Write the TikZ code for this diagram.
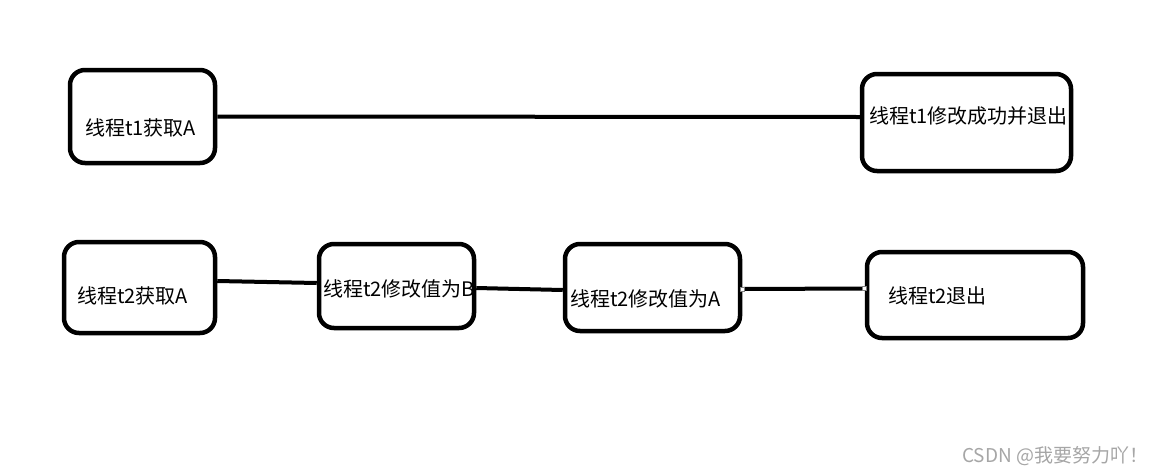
\documentclass[tikz,border=0pt]{standalone}
\usepackage{fontspec}
\newfontfamily\cjk{Noto Sans CJK SC}
\usetikzlibrary{calc}
\definecolor{wmgray}{HTML}{A6A6A6}
\tikzset{
  box/.style={draw=black, line width=4.5pt, rounded corners=15pt, inner sep=0pt, fill=white},
  lbl/.style={anchor=west, inner sep=0pt, font=\cjk\fontsize{20}{22}\selectfont},
  link/.style={draw=black, line width=4pt},
  handle/.style={draw=gray, fill=white, line width=0.6pt, minimum size=4pt, inner sep=0pt}
}
\begin{document}
\begin{tikzpicture}[x=1pt,y=-1pt]
\useasboundingbox[fill=white] (0,0) rectangle (1161,474);
% boxes
\node[box, minimum width=145pt, minimum height=93pt] (b1) at (142.5,116.5) {};
\node[box, minimum width=209pt, minimum height=97pt] (b2) at (966.5,122.5) {};
\node[box, minimum width=151pt, minimum height=91pt] (b3) at (139.5,287.5) {};
\node[box, minimum width=155pt, minimum height=84pt] (b4) at (396.5,286) {};
\node[box, minimum width=175pt, minimum height=87pt] (b5) at (652.5,287.5) {};
\node[box, minimum width=216pt, minimum height=86pt] (b6) at (975,295) {};
% labels
\node[lbl] (t1) at (85,128) {线程t1获取A};
\node[lbl] (t2) at (869,116) {线程t1修改成功并退出};
\node[lbl] (t3) at (77,296) {线程t2获取A};
\node[lbl] (t4) at (323,289) {线程t2修改值为B};
\node[lbl] (t5) at (570,299) {线程t2修改值为A};
\node[lbl] (t6) at (888,296) {线程t2退出};
% connectors
\draw[link] (b1.east) -- ([yshift=5.5pt]b2.west);
\draw[link] ([yshift=6.5pt]b3.east) -- ([yshift=3pt]b4.west);
\draw[link] ([yshift=-2pt]b4.east) -- ([yshift=-2.5pt]b5.west);
\draw[link] ([yshift=-1.5pt]b5.east) -- ([yshift=6.5pt]b6.west);
\node[handle] (h1) at ([yshift=-1.5pt]b5.east) {};
\node[handle] (h2) at ([yshift=6.5pt]b6.west) {};
% watermark
\node[anchor=west, inner sep=0pt, text=wmgray, font=\cjk\fontsize{19}{21}\selectfont] (wm) at (962,456) {CSDN @我要努力吖！};
\end{tikzpicture}
\end{document}
